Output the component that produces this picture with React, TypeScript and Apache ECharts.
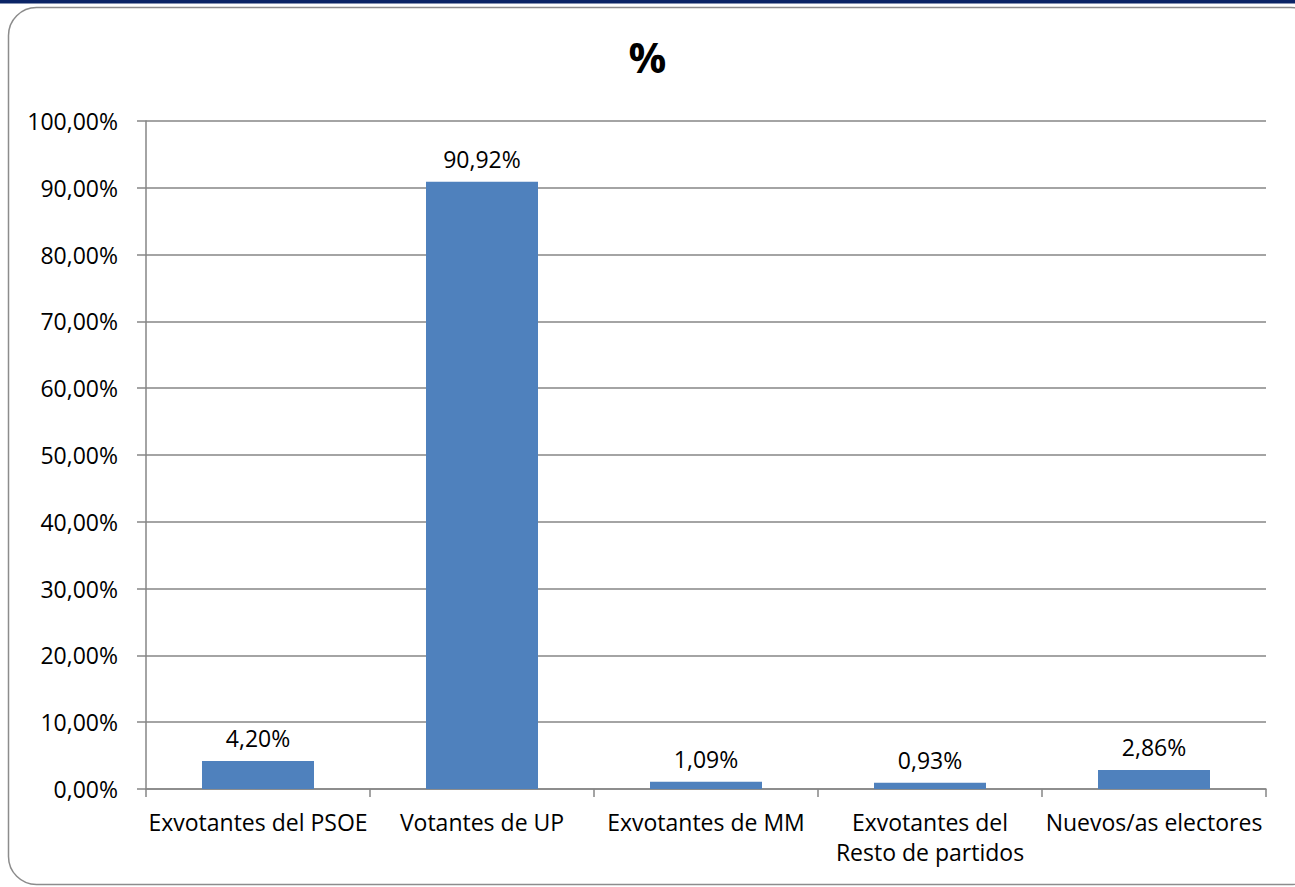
import React, { useEffect, useRef } from "react";
import * as echarts from "echarts";

const categories = [
  "Exvotantes del PSOE",
  "Votantes de UP",
  "Exvotantes de MM",
  "Exvotantes del\nResto de partidos",
  "Nuevos/as electores",
];
const values = [4.2, 90.92, 1.09, 0.93, 2.86];
const title = "%";

const fmt = (v: number) => v.toFixed(2).replace(".", ",") + "%";

export default function App() {
  const ref = useRef<HTMLDivElement>(null);
  useEffect(() => {
    if (!ref.current) return;
    const chart = echarts.init(ref.current, null, { renderer: "svg" });
    const font = "'Open Sans', sans-serif";
    chart.setOption({
      animation: false,
      backgroundColor: "#ffffff",
      title: {
        text: title,
        left: "center",
        top: 30,
        textStyle: { fontFamily: font, fontSize: 42, fontWeight: "bold", color: "#000" },
      },
      graphic: [
        { type: "rect", shape: { x: 0, y: 0, width: 1295, height: 3.5 }, style: { fill: "#0b2466" } },
        {
          type: "rect",
          shape: { x: 8.5, y: 7.5, width: 1310, height: 877, r: 28 },
          style: { fill: "none", stroke: "#8c8c8c", lineWidth: 1.5 },
          z: 10,
        },
      ],
      grid: { left: 146, right: 29, top: 121, bottom: 98, containLabel: false },
      xAxis: {
        type: "category",
        data: categories,
        boundaryGap: true,
        axisLine: { lineStyle: { color: "#868686", width: 1.5 } },
        axisTick: { show: true, length: 8, alignWithLabel: false, lineStyle: { color: "#868686", width: 1.5 } },
        axisLabel: {
          fontFamily: font,
          fontSize: 23,
          color: "#000",
          margin: 18,
          lineHeight: 30,
          interval: 0,
        },
      },
      yAxis: {
        type: "value",
        min: 0,
        max: 100,
        interval: 10,
        axisLine: { show: true, lineStyle: { color: "#868686", width: 1.5 } },
        axisTick: { show: true, length: 9, lineStyle: { color: "#868686", width: 1.5 } },
        splitLine: { lineStyle: { color: "#868686", width: 1.5 } },
        axisLabel: {
          fontFamily: font,
          fontSize: 23,
          color: "#000",
          margin: 28,
          formatter: (v: number) => fmt(v),
        },
      },
      series: [
        {
          type: "bar",
          data: values,
          barWidth: "50%",
          itemStyle: { color: "#4f81bd" },
          label: {
            show: true,
            position: "top",
            distance: 11,
            fontFamily: font,
            fontSize: 23,
            color: "#000",
            formatter: (p: any) => fmt(p.value),
          },
        },
      ],
    });
    return () => chart.dispose();
  }, []);
  return (
    <div
      ref={ref}
      style={{ position: "fixed", left: 0, top: 0, width: 1295, height: 887, background: "#fff" }}
    />
  );
}
